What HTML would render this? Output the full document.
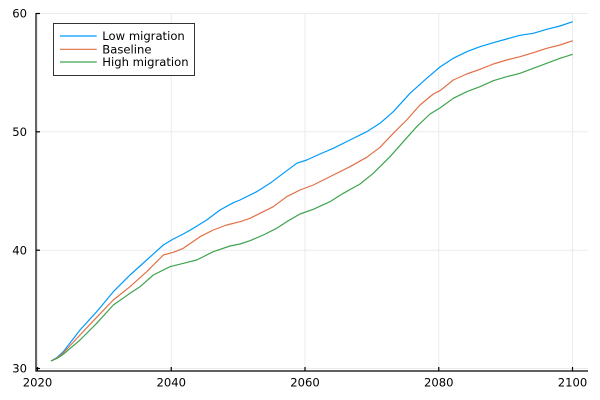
<!DOCTYPE html>
<html>
<head>
<meta charset="utf-8">
<style>
  html, body { margin:0; padding:0; background:#fff; }
  svg { display:block; }
  text { font-family: "DejaVu Sans", "Liberation Sans", sans-serif; font-size:11.6px; fill:#000; }
</style>
</head>
<body>
<svg width="600" height="400" viewBox="0 0 600 400" xmlns="http://www.w3.org/2000/svg">
  <rect width="600" height="400" fill="#fff"/>
  <!-- grid -->
  <g stroke="#ebebeb" stroke-width="1">
    <line x1="37.5" y1="13.5" x2="37.5" y2="371"/>
    <line x1="171.25" y1="13.5" x2="171.25" y2="371"/>
    <line x1="305" y1="13.5" x2="305" y2="371"/>
    <line x1="438.75" y1="13.5" x2="438.75" y2="371"/>
    <line x1="572.5" y1="13.5" x2="572.5" y2="371"/>
    <line x1="36" y1="13.5" x2="588" y2="13.5"/>
    <line x1="36" y1="131.8" x2="588" y2="131.8"/>
    <line x1="36" y1="250.2" x2="588" y2="250.2"/>
    <line x1="36" y1="368.5" x2="588" y2="368.5"/>
  </g>
  <!-- axes -->
  <g stroke="#000" stroke-width="1.2">
    <line x1="36" y1="13" x2="36" y2="371.5"/>
    <line x1="35.4" y1="371" x2="588" y2="371"/>
    <!-- y ticks -->
    <line x1="36" y1="13.5" x2="40" y2="13.5"/>
    <line x1="36" y1="131.8" x2="40" y2="131.8"/>
    <line x1="36" y1="250.2" x2="40" y2="250.2"/>
    <line x1="36" y1="368.5" x2="40" y2="368.5"/>
    <!-- x ticks -->
    <line x1="37.5" y1="371" x2="37.5" y2="367"/>
    <line x1="171.25" y1="371" x2="171.25" y2="367"/>
    <line x1="305" y1="371" x2="305" y2="367"/>
    <line x1="438.75" y1="371" x2="438.75" y2="367"/>
    <line x1="572.5" y1="371" x2="572.5" y2="367"/>
  </g>
  <!-- tick labels -->
  <g text-anchor="end">
    <text x="27" y="17.7">60</text>
    <text x="27" y="136">50</text>
    <text x="27" y="254.4">40</text>
    <text x="27" y="372.7">30</text>
  </g>
  <g text-anchor="middle">
    <text x="37.5" y="386.7">2020</text>
    <text x="171.25" y="386.7">2040</text>
    <text x="305" y="386.7">2060</text>
    <text x="438.75" y="386.7">2080</text>
    <text x="572.5" y="386.7">2100</text>
  </g>
  <!-- series -->
  <g fill="none" stroke-width="1.2" stroke-linejoin="round">
    <polyline stroke="#009AFA" points="51,361 57,357.5 63.3,351.7 80,330 96.7,311.7 113.3,291.7 130,275 146.7,260 163.3,245 173.3,239 183.3,234 193.3,228.3 206.7,220 220,210 233.3,202.7 240,200 256.7,191.7 270,183.3 283.3,173.3 296.7,163.3 306.7,160 320,154 333.3,148.3 350,140 366.7,131.7 380,123.3 393.3,111.7 410,93.3 426.7,78.3 440,67 453.3,58.3 466.7,51.7 480,46.7 493.3,42.7 506.7,39 520,35.3 533.3,33.3 546.7,29.3 560,26 572.7,21.7"/>
    <polyline stroke="#E36F47" points="51,361 57,358 63.3,353 80,335 96.7,317.3 113.3,300 130,286.7 146.7,271.7 163.3,255 173.3,252.3 183.3,248.3 200,236.7 213.3,230 226.7,225 240,221.7 250,218.3 260,213.3 273.3,206.7 286.7,196.7 300,190 313.3,185 333.3,175 350,166.7 366.7,157.3 380,147.3 393.3,133.3 406.7,120 420,105 433.3,94 440,90.7 453.3,80 466.7,74 480,69.3 493.3,64 506.7,60 520,56.7 533.3,52.7 546.7,48.3 560,45 572.7,40.7"/>
    <polyline stroke="#3EA44E" points="51,361 57,358.5 63.3,354.3 80,340 96.7,323.3 113.3,305 130,293.3 140,286.7 153.3,275 170,266.7 190,261.7 196.7,260 213.3,251.7 230,246 240,244 250,240.7 263.3,235 276.7,228.3 286.7,221.7 300,214 313.3,209.3 330,201.7 343.3,193.3 360,184 373.3,173.3 390,156.7 403.3,141.7 416.7,126.7 430,114 440,108 453.3,98.3 466.7,91.7 480,86.7 493.3,80.7 506.7,76.7 520,73.3 533.3,68.3 546.7,63.3 560,58.3 572.7,54.3"/>
  </g>
  <!-- legend -->
  <rect x="53.5" y="23.5" width="141" height="52" fill="#fff" stroke="#333" stroke-width="1"/>
  <line x1="60" y1="36" x2="96.7" y2="36" stroke="#009AFA" stroke-width="1.2"/>
  <line x1="60" y1="49.3" x2="96.7" y2="49.3" stroke="#E36F47" stroke-width="1.2"/>
  <line x1="60" y1="62" x2="96.7" y2="62" stroke="#3EA44E" stroke-width="1.2"/>
  <text x="102.3" y="40.2">Low migration</text>
  <text x="102.3" y="53.5">Baseline</text>
  <text x="102.3" y="66.2">High migration</text>
</svg>
</body>
</html>
